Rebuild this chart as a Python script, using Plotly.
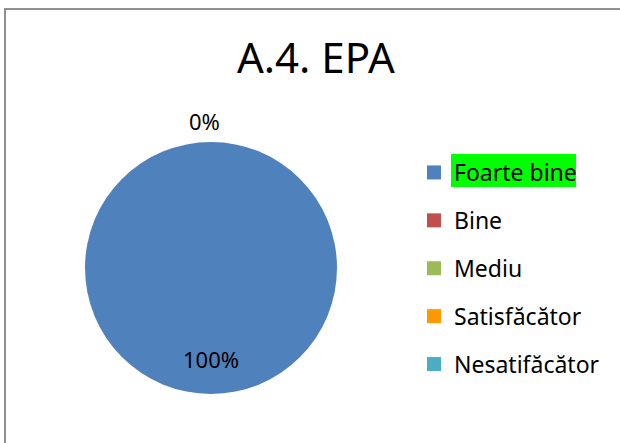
import math
import plotly.graph_objects as go

categories = ["Foarte bine", "Bine", "Mediu", "Satisfăcător", "Nesatifăcător"]
values = [100, 0, 0, 0, 0]
colors = ["#4F81BD", "#C0504D", "#9BBB59", "#FF9900", "#4BACC6"]
title_text = "A.4. EPA"

W, H = 620, 443
FONT = "Noto Sans"

# pie geometry (pixels)
cx, cy, R = 211, 268, 126

fig = go.Figure()
fig.add_trace(go.Pie(
    labels=categories,
    values=values,
    marker=dict(colors=colors, line=dict(width=0)),
    sort=False,
    direction="clockwise",
    rotation=0,
    textinfo="none",
    hoverinfo="label+percent",
    domain=dict(x=[(cx - R) / W, (cx + R) / W],
                y=[(H - cy - R) / H, (H - cy + R) / H]),
    showlegend=False,
))

# legend entries (one per category, so they can be spaced apart)
for cat, col in zip(categories, colors):
    fig.add_trace(go.Scatter(
        x=[None], y=[None], mode="markers", name=cat, legendgroup=cat,
        marker=dict(symbol="square", size=14, color=col),
        showlegend=True, hoverinfo="skip",
    ))

# data labels at slice mid-angles
total = sum(values)
cum = 0
seen = set()
for v in values:
    frac = v / total
    mid = cum + frac / 2
    cum += frac
    ang = math.pi / 2 - 2 * math.pi * mid
    rr = 0.72 if frac > 0 else 1.17
    px = cx + rr * R * math.cos(ang)
    py = cy - rr * R * math.sin(ang)
    key = (round(px), round(py))
    if key in seen:
        continue
    seen.add(key)
    fig.add_annotation(
        x=(px - 6 * (frac == 0)) / W, y=1 - py / H, xref="paper", yref="paper",
        text=f"{round(frac * 100)}%", showarrow=False,
        font=dict(family=FONT, size=22, color="#000000"),
        xanchor="center", yanchor="middle",
    )

# title
fig.add_annotation(
    x=316 / W, y=1 - 57 / H, xref="paper", yref="paper",
    text=title_text, showarrow=False,
    font=dict(family=FONT, size=42, color="#000000"),
    xanchor="center", yanchor="middle",
)

# green highlight behind first legend entry
fig.add_shape(type="rect", xref="paper", yref="paper",
              x0=451 / W, x1=576 / W, y0=1 - 187 / H, y1=1 - 154 / H,
              fillcolor="#00FF00", line=dict(width=0), layer="above")

# chart border
fig.add_shape(type="rect", xref="paper", yref="paper",
              x0=5 / W, x1=1.05, y0=-0.05, y1=1 - 9 / H,
              line=dict(color="#8f8f8f", width=2), fillcolor="rgba(0,0,0,0)",
              layer="below")

fig.update_layout(
    width=W, height=H,
    margin=dict(l=0, r=0, t=0, b=0),
    paper_bgcolor="white",
    plot_bgcolor="white",
    showlegend=True,
    xaxis=dict(visible=False),
    yaxis=dict(visible=False),
    legend=dict(
        x=414 / W, xanchor="left",
        y=1 - 151 / H, yanchor="top",
        traceorder="grouped",
        tracegroupgap=15,
        bgcolor="rgba(0,0,0,0)",
        font=dict(family=FONT, size=23, color="#000000"),
    ),
)

fig.write_html("out.html", config={"displayModeBar": False},
               post_script="document.body.style.margin='0';")
